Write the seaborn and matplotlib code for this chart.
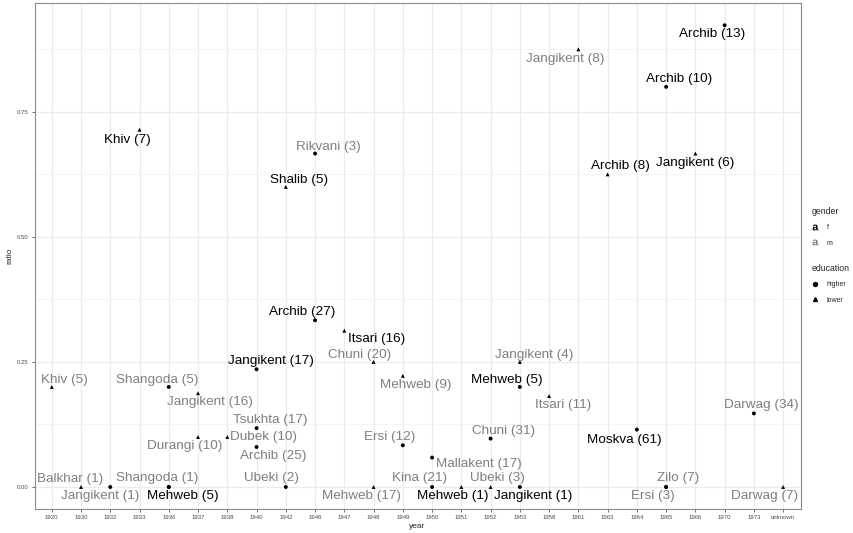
import matplotlib
matplotlib.use("Agg")
import matplotlib.pyplot as plt
from matplotlib.lines import Line2D
import seaborn as sns
import pandas as pd

# ---------------- data ----------------
years = ["1920", "1930", "1932", "1933", "1936", "1936", "1936", "1937", "1937",
         "1938", "1940", "1940", "1940", "1942", "1942", "1946", "1946", "1947",
         "1948", "1948", "1949", "1949", "1950", "1950", "1951", "1952", "1952",
         "1953", "1953", "1953", "1958", "1961", "1963", "1964", "1965", "1965",
         "1965", "1966", "1970", "1973", "unknown"]
villages = ["Khiv", "Balkhar", "Jangikent", "Khiv", "Shangoda", "Shangoda", "Mehweb",
            "Jangikent", "Durangi", "Dubek", "Tsukhta", "Archib", "Jangikent", "Ubeki",
            "Shalib", "Rikvani", "Archib", "Itsari", "Chuni", "Mehweb", "Mehweb", "Ersi",
            "Mallakent", "Kina", "Mehweb", "Chuni", "Ubeki", "Jangikent", "Mehweb",
            "Jangikent", "Itsari", "Jangikent", "Archib", "Moskva", "Archib", "Zilo",
            "Ersi", "Jangikent", "Archib", "Darwag", "Darwag"]
counts = [5, 1, 1, 7, 5, 1, 5, 16, 10, 10, 17, 25, 17, 2, 5, 3, 27, 16, 20, 17, 9, 12,
          17, 21, 1, 31, 3, 4, 5, 1, 11, 8, 8, 61, 10, 7, 3, 6, 13, 34, 7]
ratios = [0.2, 0.0, 0.0, 5/7, 0.2, 0.0, 0.0, 3/16, 0.1, 0.1, 2/17, 2/25, 4/17, 0.0,
          0.6, 2/3, 9/27, 5/16, 0.25, 0.0, 2/9, 1/12, 1/17, 0.0, 0.0, 3/31, 0.0, 0.25,
          0.2, 0.0, 2/11, 7/8, 5/8, 7/61, 0.8, 0.0, 0.0, 4/6, 12/13, 5/34, 0.0]
gender = ["m", "m", "m", "f", "m", "m", "f", "m", "m", "m", "m", "m", "f", "m", "f",
          "m", "f", "f", "m", "m", "m", "m", "m", "m", "f", "m", "m", "m", "f", "f",
          "m", "m", "f", "f", "f", "m", "m", "f", "f", "m", "m"]
education = ["lower", "lower", "higher", "lower", "higher", "higher", "higher", "lower",
             "lower", "lower", "higher", "higher", "higher", "higher", "lower", "higher",
             "higher", "lower", "lower", "lower", "lower", "higher", "higher", "higher",
             "lower", "higher", "lower", "lower", "higher", "higher", "lower", "lower",
             "lower", "higher", "higher", "higher", "higher", "lower", "higher", "higher",
             "lower"]
year_order = ["1920", "1930", "1932", "1933", "1936", "1937", "1938", "1940", "1942",
              "1946", "1947", "1948", "1949", "1950", "1951", "1952", "1953", "1958",
              "1961", "1963", "1964", "1965", "1966", "1970", "1973", "unknown"]

# label placement (offsets in pixels from the point, repel-like)
label_offsets = [(13, 7), (-11, 8), (-10, -9), (-12, -10), (-12, 7), (-12, 9), (14, -9),
                 (12, -9), (-13, -9), (36, 0), (14, 8), (17, -9), (14, 8), (-14, 9),
                 (13, 7), (13, 7), (-13, 8), (32, -8), (-14, 7), (-12, -9), (13, -9),
                 (-13, 8), (47, -6), (-13, 9), (-9, -9), (13, 8), (7, 9), (14, 7),
                 (-13, 7), (13, -9), (14, -9), (-13.5, -10), (13, 8), (-13, -10), (13, 8),
                 (12, 9), (-13, -9), (0, -9), (-13, -9), (7, 8), (-19, -9)]

df = pd.DataFrame({"year": pd.Categorical(years, categories=year_order, ordered=True),
                   "village": villages, "n": counts, "ratio": ratios,
                   "gender": gender, "education": education})
df["label"] = [f"{v} ({n})" for v, n in zip(villages, counts)]

# ---------------- plot ----------------
sns.set_style("white")
plt.rcParams["font.family"] = ["Liberation Sans", "DejaVu Sans"]
plt.rcParams["mathtext.fontset"] = "custom"
plt.rcParams["mathtext.rm"] = "Liberation Sans"
plt.rcParams["mathtext.bf"] = "Liberation Sans:bold"

W, H = 854, 533
fig = plt.figure(figsize=(W / 100, H / 100), dpi=100)
ax = fig.add_axes([34.5 / W, 1 - 509 / H, (800.7 - 34.5) / W, (509 - 3.3) / H])

ax.set_xlim(-0.59, 25.6)
ax.set_ylim(-0.044, 0.967)

# grid (ggplot theme_bw-like)
ax.set_axisbelow(True)
ax.set_xticks(range(len(year_order)))
ax.set_yticks([0, 0.25, 0.5, 0.75])
ax.set_yticks([0.125, 0.375, 0.625, 0.875], minor=True)
ax.grid(which="major", color="#ebebeb", linewidth=0.9)
ax.grid(which="minor", axis="y", color="#f2f2f2", linewidth=0.6)

xpos = df["year"].cat.codes.to_numpy()
sns.scatterplot(x=xpos, y=df["ratio"], style=df["education"],
                markers={"higher": "o", "lower": "^"}, color="black",
                s=8, linewidth=0, legend=False, ax=ax, zorder=3)

text_colors = {"f": "#000000", "m": "#7f7f7f"}
for xi, yi, lab, g, (dx, dy) in zip(xpos, df["ratio"], df["label"], df["gender"], label_offsets):
    ax.annotate(lab, xy=(xi, yi), xytext=(dx, dy), textcoords="offset pixels",
                ha="center", va="center", fontsize=9.7, color=text_colors[g], zorder=4)

ax.set_xticks(range(len(year_order)))
ax.set_xticklabels(year_order)
ax.set_yticklabels(["0.00", "0.25", "0.50", "0.75"])
ax.tick_params(axis="both", which="major", labelsize=4.3, labelcolor="#4d4d4d",
               color="#333333", length=2.5, width=0.5, pad=2, bottom=True, left=True)
ax.tick_params(axis="both", which="minor", length=0)
for s in ax.spines.values():
    s.set_edgecolor("#8c8c8c")
    s.set_linewidth(0.8)

ax.set_xlabel("year", fontsize=6, labelpad=2)
ax.set_ylabel("ratio", fontsize=6, labelpad=2)

# legends
g_handles = [Line2D([], [], linestyle="none", marker=r"$\mathbf{a}$", markersize=4.3,
                    markeredgewidth=0, color=text_colors[k]) for k in ["f", "m"]]
leg1 = fig.legend(g_handles, ["f", "m"], title="gender", loc="upper left",
                  bbox_to_anchor=(812 / W, 1 - 207 / H), frameon=False, fontsize=5,
                  title_fontsize=6.3, handlelength=0.8, handletextpad=1.3,
                  labelspacing=1.2, borderaxespad=0, borderpad=0)
leg1._legend_box.align = "left"
e_handles = [Line2D([], [], linestyle="none", marker=m, markersize=2.8, color="black")
             for m in ["o", "^"]]
leg2 = fig.legend(e_handles, ["higher", "lower"], title="education", loc="upper left",
                  bbox_to_anchor=(812 / W, 1 - 264 / H), frameon=False, fontsize=5,
                  title_fontsize=6.3, handlelength=0.8, handletextpad=1.3,
                  labelspacing=1.2, borderaxespad=0, borderpad=0)
leg2._legend_box.align = "left"

fig.savefig("out.png", dpi=100)
